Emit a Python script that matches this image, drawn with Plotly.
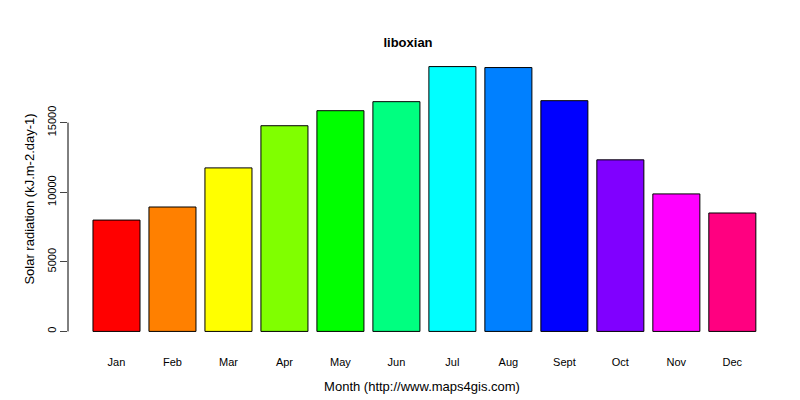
import plotly.graph_objects as go

months = ["Jan", "Feb", "Mar", "Apr", "May", "Jun", "Jul", "Aug", "Sept", "Oct", "Nov", "Dec"]
radiation = [8000, 8940, 11750, 14780, 15860, 16510, 19030, 18960, 16580, 12330, 9880, 8510]
colors = ["#FF0000", "#FF8000", "#FFFF00", "#80FF00", "#00FF00", "#00FF80",
          "#00FFFF", "#0080FF", "#0000FF", "#8000FF", "#FF00FF", "#FF0080"]
y_ticks = [0, 5000, 10000, 15000]

fig = go.Figure(go.Bar(
    x=list(range(len(months))), y=radiation, width=0.84,
    marker=dict(color=colors, line=dict(color="black", width=1)),
))

fig.update_layout(
    width=800, height=400,
    plot_bgcolor="white", paper_bgcolor="white",
    margin=dict(l=60, r=32, t=48, b=66),
    font=dict(family="Liberation Sans, Arial", size=11, color="black"),
    title=dict(text="<b>liboxian</b>", x=0.5, xanchor="center", y=0.925, font=dict(size=13)),
    showlegend=False,
    xaxis=dict(range=[-0.866, 11.78], tickvals=list(range(len(months))), ticktext=months,
               showgrid=False, zeroline=False, showline=False, ticks="", ticklabelstandoff=12,
               automargin=False,
               title=dict(text="Month (http://www.maps4gis.com)", standoff=14)),
    yaxis=dict(range=[-761, 19791], tickvals=y_ticks, ticktext=[str(v) for v in y_ticks],
               tickangle=-90, showgrid=False, automargin=False,
               zeroline=False, showline=False, ticks="outside", ticklen=7,
               title=dict(text="Solar radiation (kJ.m-2.day-1)", standoff=8)),
)
fig.add_shape(type="line", xref="paper", yref="y", x0=0, x1=0, y0=0, y1=15000,
              line=dict(color="black", width=1))

fig.write_html("out.html")
